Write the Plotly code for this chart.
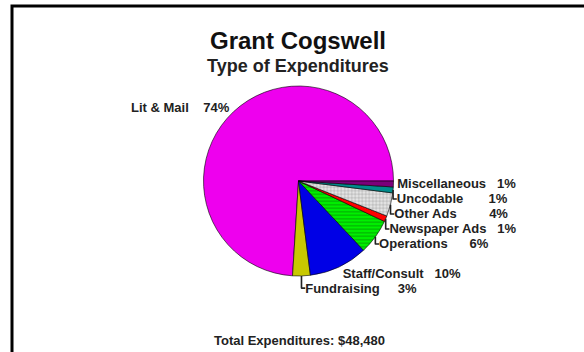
import plotly.graph_objects as go

# --- data ---
categories = ["Lit & Mail", "Fundraising", "Staff/Consult", "Operations",
              "Newspaper Ads", "Other Ads", "Uncodable", "Miscellaneous"]
shares = [74, 3, 10, 6, 1, 4, 1, 1]
total_label = "Total Expenditures: $48,480"

# --- style ---
colors = ["#EE00EE", "#C8C800", "#0000E6", "#00F000",
          "#FF0000", "#E4E4E4", "#008C8C", "#7A007A"]
patterns = ["", "", "", "-", "", "+", "", ""]
pat_fg = ["black", "black", "black", "#0A400A", "black", "#505050", "black", "black"]
gaps = [4, 5, 3, 6, 3, 9, 7, 3]  # spaces between name and percent, like the tab stops in the original

W, H = 584, 352
# first slice sits clockwise of the rotation line; the small slices should end at 3 o'clock
rot = 90 + 360 * (sum(shares) - shares[0]) / sum(shares)
templates = ["%{label}" + "&nbsp;" * g + "%{percent:.0%}" for g in gaps]

fig = go.Figure()
fig.add_trace(go.Pie(
    labels=categories,
    values=shares,
    sort=False,
    direction="counterclockwise",
    rotation=rot,
    marker=dict(colors=colors,
                line=dict(color="black", width=0.6),
                pattern=dict(shape=patterns, fgcolor=pat_fg, bgcolor=colors,
                             fillmode="overlay", size=3.5, solidity=0.25)),
    textposition="outside",
    texttemplate=templates,
    outsidetextfont=dict(family="Liberation Sans", size=13, color="#222222", weight="bold"),
    domain=dict(x=[(298.5 - 95) / W, (298.5 + 95) / W], y=[1 - 276 / H, 1 - 86 / H]),
    showlegend=False,
    hoverinfo="label+percent",
))

fig.add_annotation(text="<b>Grant Cogswell</b>", x=298 / W, y=1 - 40 / H, xref="paper", yref="paper",
                   yanchor="middle", showarrow=False,
                   font=dict(family="Liberation Sans", size=24, color="#111111"))
fig.add_annotation(text="<b>Type of Expenditures</b>", x=298 / W, y=1 - 66 / H, xref="paper", yref="paper",
                   yanchor="middle", showarrow=False,
                   font=dict(family="Liberation Sans", size=18, color="#222222"))
fig.add_annotation(text="<b>" + total_label + "</b>", x=299 / W, y=1 - 340 / H, xref="paper", yref="paper",
                   yanchor="middle", showarrow=False,
                   font=dict(family="Liberation Sans", size=13, color="#222222"))

# outer frame of the original page
fig.add_shape(type="rect", xref="paper", yref="paper", x0=12 / W, x1=1.05, y0=-0.05, y1=1 - 6 / H,
              line=dict(color="black", width=3))

fig.update_layout(width=W, height=H, margin=dict(l=0, r=0, t=0, b=0),
                  paper_bgcolor="white", plot_bgcolor="white")
fig.write_html("out.html", config={"displayModeBar": False},
               post_script="document.body.style.margin='0';")
